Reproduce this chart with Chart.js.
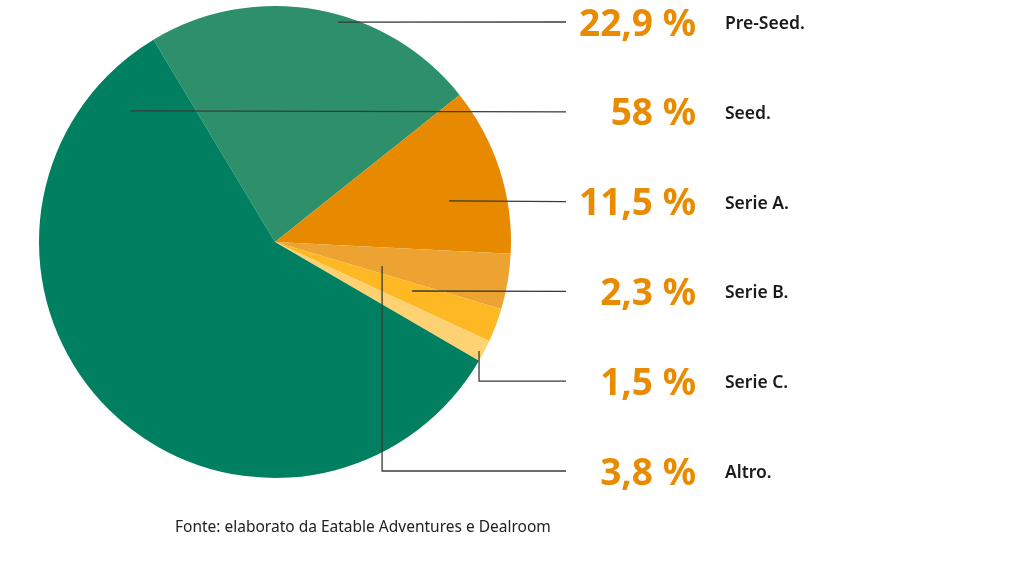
<!DOCTYPE html>
<html>
<head>
<meta charset="utf-8">
<script src="https://cdn.jsdelivr.net/npm/chart.js@4"></script>
<style>
  html, body { margin: 0; padding: 0; background: #fff; }
  #wrap { width: 1024px; height: 573px; position: relative; }
</style>
</head>
<body>
<div id="wrap"><canvas id="chart" width="1024" height="573"></canvas></div>
<script>
"use strict";

// categories in the order of the labels on the right
const categories = ["Pre-Seed.", "Seed.", "Serie A.", "Serie B.", "Serie C.", "Altro."];
const values = [22.9, 58, 11.5, 2.3, 1.5, 3.8];
const valueLabels = ["22,9 %", "58 %", "11,5 %", "2,3 %", "1,5 %", "3,8 %"];
const colors = ["#2e8f6b", "#008060", "#e88a00", "#fdb824", "#fed172", "#eca331"];
// order of the slices, clockwise
const sliceOrder = [0, 2, 5, 3, 4, 1];
const footer = "Fonte: elaborato da Eatable Adventures e Dealroom";

// where each leader line touches its slice (fraction of the arc angle, fraction of radius)
const anchors = [[0.57, 0.969], [0.92, 0.825], [0.611, 0.758], [0.38, 0.617], [0.61, 0.98], [0.716, 0.465]];

const leaderPlugin = {
	id: "leaders",
	afterDraw(chart) {
		const ctx = chart.ctx;
		const meta = chart.getDatasetMeta(0);
		const rowTop = 22, rowStep = 89.8;
		ctx.save();
		for (let i = 0; i < categories.length; i++) {
			const pos = sliceOrder.indexOf(i);
			const arc = meta.data[pos];
			const a = arc.startAngle + (arc.endAngle - arc.startAngle) * anchors[i][0];
			const r = arc.outerRadius * anchors[i][1];
			const ax = arc.x + Math.cos(a) * r;
			const ay = arc.y + Math.sin(a) * r;
			const y = rowTop + rowStep * i;
			ctx.strokeStyle = "#3a3a3a";
			ctx.lineWidth = 1.3;
			ctx.beginPath();
			ctx.moveTo(ax, ay);
			if (Math.abs(ay - y) > 2) ctx.lineTo(ax, y);
			ctx.lineTo(566, y);
			ctx.stroke();

			ctx.fillStyle = "#e98b00";
			ctx.font = "bold 37px 'Noto Sans'";
			ctx.textAlign = "right";
			ctx.textBaseline = "middle";
			ctx.fillText(valueLabels[i], 696, y + 3);

			ctx.fillStyle = "#1a1a1a";
			ctx.font = "600 17.5px 'Noto Sans'";
			ctx.textAlign = "left";
			ctx.fillText(categories[i], 725, y + 2);
		}
		ctx.fillStyle = "#222";
		ctx.font = "15.5px 'Noto Sans'";
		ctx.textAlign = "left";
		ctx.textBaseline = "middle";
		ctx.fillText(footer, 175, 528);
		ctx.restore();
	}
};

const chart = new Chart(document.getElementById("chart"), {
	type: "pie",
	data: {
		labels: sliceOrder.map(i => categories[i]),
		datasets: [{
			data: sliceOrder.map(i => values[i]),
			backgroundColor: sliceOrder.map(i => colors[i]),
			borderWidth: 0
		}]
	},
	options: {
		responsive: false,
		animation: false,
		rotation: -31,
		layout: { padding: { left: 39, top: 6, right: 513, bottom: 95 } },
		plugins: {
			legend: { display: false },
			tooltip: { enabled: false }
		}
	},
	plugins: [leaderPlugin]
});
</script>
</body>
</html>
